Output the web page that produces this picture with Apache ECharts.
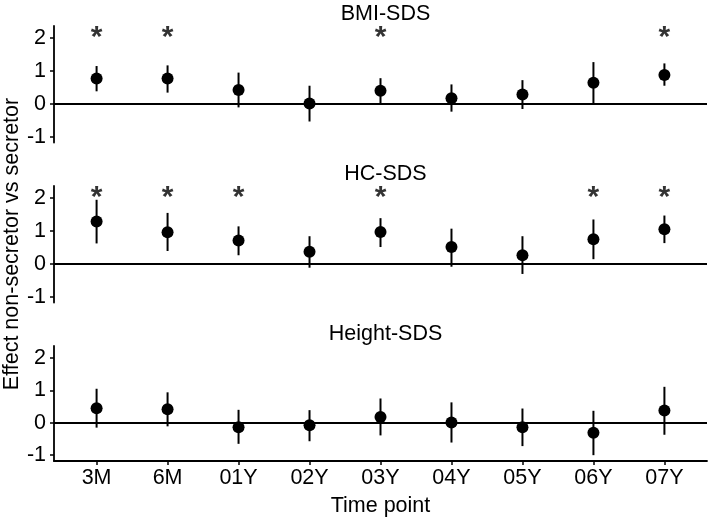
<!DOCTYPE html>
<html>
<head>
<meta charset="utf-8">
<script src="https://cdn.jsdelivr.net/npm/echarts@6/dist/echarts.min.js"></script>
<style>
html,body{margin:0;padding:0;background:#fff;}
#chart{width:708px;height:518px;}
</style>
</head>
<body>
<div id="chart"></div>
<script>
const categories = ['3M','6M','01Y','02Y','03Y','04Y','05Y','06Y','07Y'];
const panelTitles = ['BMI-SDS','HC-SDS','Height-SDS'];
const yTicks = [-1, 0, 1, 2];

const bmiEst  = [0.77, 0.77, 0.42, 0.01, 0.40, 0.17, 0.28, 0.64, 0.88];
const bmiLow  = [0.38, 0.34, -0.11, -0.54, 0.01, -0.24, -0.16, 0.00, 0.55];
const bmiHigh = [1.15, 1.17, 0.95, 0.55, 0.78, 0.59, 0.72, 1.27, 1.23];
const bmiSig  = [1, 1, 0, 0, 1, 0, 0, 0, 1];

const hcEst  = [1.29, 0.96, 0.71, 0.37, 0.97, 0.51, 0.26, 0.75, 1.05];
const hcLow  = [0.62, 0.39, 0.26, -0.12, 0.51, -0.09, -0.31, 0.14, 0.63];
const hcHigh = [1.95, 1.55, 1.14, 0.84, 1.39, 1.07, 0.84, 1.35, 1.47];
const hcSig  = [1, 1, 1, 0, 1, 0, 0, 1, 1];

const heightEst  = [0.45, 0.42, -0.14, -0.08, 0.18, 0.01, -0.14, -0.31, 0.38];
const heightLow  = [-0.15, -0.11, -0.65, -0.57, -0.39, -0.61, -0.72, -1.00, -0.37];
const heightHigh = [1.05, 0.94, 0.40, 0.39, 0.75, 0.63, 0.44, 0.37, 1.11];
const heightSig  = [0, 0, 0, 0, 0, 0, 0, 0, 0];

const starLevel = 2.16;
const xTitle = 'Time point';
const yTitle = 'Effect non-secretor vs secretor';

const panels = [
  {est: bmiEst, low: bmiLow, high: bmiHigh, sig: bmiSig},
  {est: hcEst, low: hcLow, high: hcHigh, sig: hcSig},
  {est: heightEst, low: heightLow, high: heightHigh, sig: heightSig}
];

const FONT = "'Liberation Sans', Arial, Helvetica, sans-serif";
const FS = 21.5;
const gridTops = [26, 186, 346];
const gridH = 116.5;

const grids = [], xAxes = [], yAxes = [], series = [], titles = [];
panels.forEach((p, i) => {
  grids.push({left: 54, top: gridTops[i], width: 653, height: gridH, containLabel: false});
  const isBottom = i === 2;
  xAxes.push({
    type: 'value', gridIndex: i, min: 0.4, max: 9.6,
    splitLine: {show: false},
    axisLine: {show: isBottom, onZero: false, lineStyle: {color: '#000', width: 1.8}},
    axisTick: {show: isBottom, customValues: categories.map((c, k) => k + 1), length: 4, lineStyle: {color: '#000', width: 1.5}},
    axisLabel: {show: isBottom, customValues: categories.map((c, k) => k + 1),
      formatter: v => categories[Math.round(v) - 1] || '',
      color: '#000', fontSize: FS, fontFamily: FONT, margin: 6},
    name: isBottom ? xTitle : '', nameLocation: 'middle', nameGap: 34,
    nameTextStyle: {color: '#000', fontSize: FS, fontFamily: FONT}
  });
  yAxes.push({
    type: 'value', gridIndex: i, min: -1.18, max: 2.37,
    splitLine: {show: false},
    axisLine: {show: true, onZero: false, lineStyle: {color: '#000', width: 1.8}},
    axisTick: {show: true, customValues: yTicks, length: 4, lineStyle: {color: '#000', width: 1.5}},
    axisLabel: {show: true, customValues: yTicks, color: '#000', fontSize: FS, fontFamily: FONT, margin: 8}
  });
  titles.push({
    text: panelTitles[i], left: 380.5, top: gridTops[i] - 28, textAlign: 'center',
    textStyle: {color: '#000', fontSize: FS, fontWeight: 'normal', fontFamily: FONT}
  });
  // error bars
  series.push({
    type: 'custom', xAxisIndex: i, yAxisIndex: i,
    data: categories.map((c, k) => [k + 1, p.low[k], p.high[k]]),
    renderItem: (params, api) => {
      const a = api.coord([api.value(0), api.value(1)]);
      const b = api.coord([api.value(0), api.value(2)]);
      return {type: 'line', shape: {x1: a[0], y1: a[1], x2: b[0], y2: b[1]},
        style: {stroke: '#000', lineWidth: 2}};
    },
    silent: true, z: 3,
    markLine: {
      silent: true, symbol: ['none', 'none'], label: {show: false},
      lineStyle: {color: '#000', width: 2, type: 'solid'},
      data: [{yAxis: 0}], animation: false
    }
  });
  // points
  series.push({
    type: 'scatter', xAxisIndex: i, yAxisIndex: i,
    data: categories.map((c, k) => [k + 1, p.est[k]]),
    symbol: 'circle', symbolSize: 12,
    itemStyle: {color: '#000', opacity: 1}, z: 4, silent: true
  });
  // significance stars
  series.push({
    type: 'scatter', xAxisIndex: i, yAxisIndex: i,
    data: categories.map((c, k) => p.sig[k] ? [k + 1, starLevel] : null).filter(d => d),
    symbolSize: 0.01,
    label: {show: true, formatter: '*', position: 'inside', offset: [0, 5],
      color: '#000', fontSize: 30, fontWeight: 'bold', fontFamily: FONT},
    silent: true, z: 5
  });
});

const chart = echarts.init(document.getElementById('chart'), null, {renderer: 'canvas'});
chart.setOption({
  animation: false,
  backgroundColor: '#fff',
  title: titles,
  grid: grids,
  xAxis: xAxes,
  yAxis: yAxes,
  series: series,
  graphic: [{
    type: 'text', x: 12, y: 244, rotation: Math.PI / 2,
    style: {text: yTitle, fill: '#000', fontSize: FS, fontFamily: FONT,
      align: 'center', verticalAlign: 'middle'}
  }]
});
</script>
</body>
</html>
